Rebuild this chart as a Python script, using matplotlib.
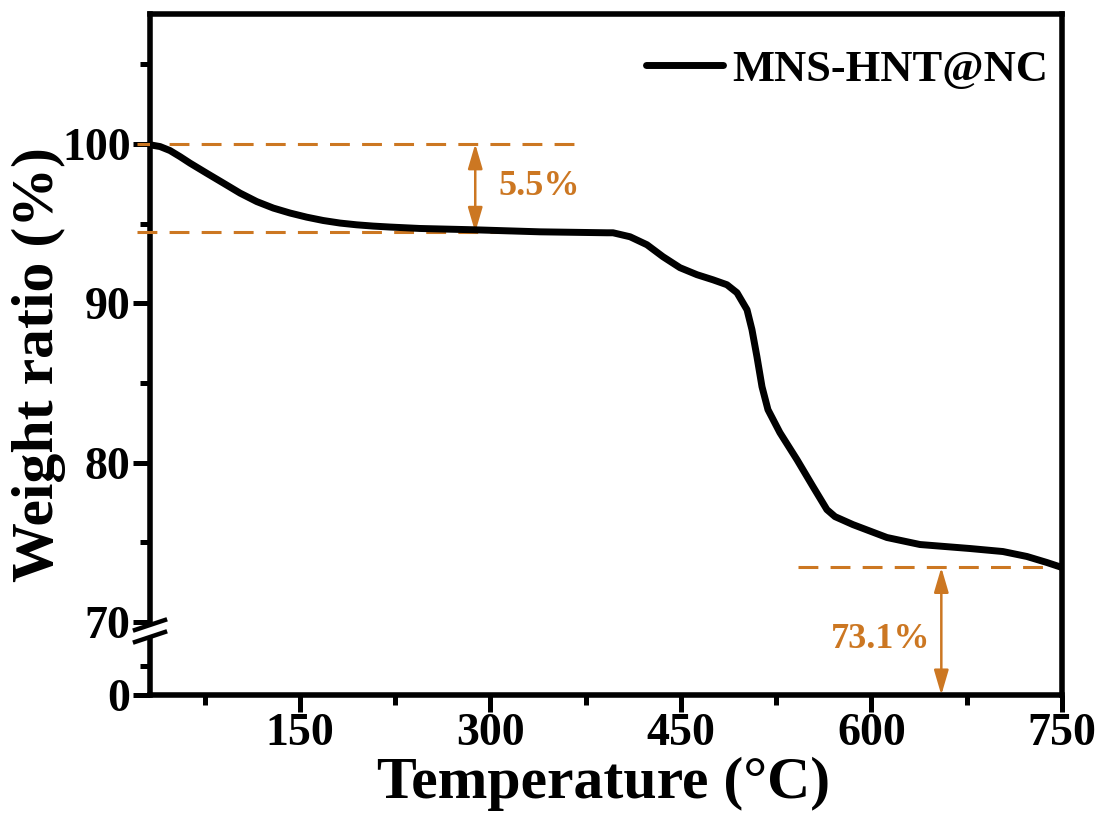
import numpy as np
import matplotlib
matplotlib.use("Agg")
import matplotlib.pyplot as plt
from matplotlib.patches import Polygon, ArrowStyle
from matplotlib.lines import Line2D

# ---------------- data ----------------
temperature = [31.9, 39.8, 47.6, 55.5, 63.4, 76.5, 89.6, 102.8, 115.9, 129.0,
               142.1, 155.3, 168.3, 181.5, 194.6, 207.7, 220.9, 234.0, 244.5,
               286.2, 338.9, 391.7, 396.5, 409.9, 423.2, 435.8, 449.2, 462.6,
               475.2, 486.2, 494.1, 502.0, 505.9, 509.8, 513.8, 518.5, 527.9,
               541.3, 553.9, 564.9, 571.3, 585.4, 612.2, 638.2, 677.5, 703.5,
               722.4, 738.2, 750.0]
weight = [99.94, 99.83, 99.58, 99.20, 98.79, 98.16, 97.54, 96.91, 96.38, 95.97,
          95.66, 95.40, 95.19, 95.03, 94.92, 94.84, 94.78, 94.73, 94.69,
          94.61, 94.48, 94.42, 94.42, 94.17, 93.67, 92.92, 92.23, 91.79,
          91.47, 91.16, 90.66, 89.59, 88.34, 86.65, 84.76, 83.32, 81.88,
          80.19, 78.50, 77.05, 76.61, 76.11, 75.30, 74.86, 74.61, 74.42,
          74.11, 73.73, 73.42]
series_name = "MNS-HNT@NC"

x_ticks = [150, 300, 450, 600, 750]
x_minor = [75, 225, 375, 525, 675]
y_ticks = [0, 70, 80, 90, 100]
y_tick_labels = ["0", "70", "80", "90", "100"]
y_minor = [28, 75, 85, 95, 105]

initial_weight = 100.0
plateau_weight = 94.45      # 5.5 % loss
residual_line = 73.42       # dashed residual level
loss_label = "5.5%"
residual_label = "73.1%"

# ---------------- style ----------------
plt.rcParams['font.family'] = ['Liberation Serif', 'DejaVu Serif']
plt.rcParams['font.weight'] = 'bold'
orange = '#CC7722'
break_val = 70.0
ratio = 4.58 / 70.0


def fwd(y):
    y = np.asarray(y, dtype=float)
    return np.where(y >= break_val, y, break_val - (break_val - y) * ratio)


def inv(v):
    v = np.asarray(v, dtype=float)
    return np.where(v >= break_val, v, break_val - (break_val - v) / ratio)


fig = plt.figure(figsize=(10.99, 8.21), dpi=100)
ax = fig.add_axes([0.1365, 0.1535, 0.8298, 0.8295])
ax.set_yscale('function', functions=(fwd, inv))

ax.plot(temperature, weight, color='black', lw=5, solid_joinstyle='round',
        solid_capstyle='round', label=series_name, zorder=4)

ax.set_xlim(31.9, 750)
ax.set_ylim(0, 108.15)

ax.set_xticks(x_ticks)
ax.set_xticks(x_minor, minor=True)
ax.set_yticks(y_ticks)
ax.set_yticklabels(y_tick_labels)
ax.set_yticks(y_minor, minor=True)
ax.tick_params(axis='both', which='major', direction='out', length=12,
               width=3.6, labelsize=33, pad=2)
ax.tick_params(axis='both', which='minor', direction='out', length=7,
               width=3.6)
ax.tick_params(axis='x', which='major', pad=1)
for s in ax.spines.values():
    s.set_linewidth(4)

ax.set_xlabel("Temperature (°C)", fontsize=43, fontweight='bold')
ax.set_ylabel("Weight ratio (%)", fontsize=43, fontweight='bold')
ax.xaxis.set_label_coords(0.497, -0.09)
ax.yaxis.set_label_coords(-0.092, 0.485)

# legend
leg = ax.legend(loc='center right', bbox_to_anchor=(0.985, 0.918), frameon=False,
                fontsize=32, handlelength=1.75, handletextpad=0.2,
                borderpad=0, borderaxespad=0)

# dashed reference lines
dash = (6.5, 4)
ax.plot([22, 369], [initial_weight, initial_weight], color=orange, lw=2.2,
        dashes=dash, clip_on=False, zorder=3)
ax.plot([22, 395], [plateau_weight, plateau_weight], color=orange, lw=2.2,
        dashes=dash, clip_on=False, zorder=3)
ax.plot([542, 750], [residual_line, residual_line], color=orange, lw=2.2,
        dashes=dash, zorder=3)

astyle = ArrowStyle('<|-|>', head_length=0.75, head_width=0.22)
ax.annotate('', xy=(288, initial_weight), xytext=(288, plateau_weight),
            arrowprops=dict(arrowstyle=astyle, color=orange, lw=1.8,
                            mutation_scale=20, shrinkA=0, shrinkB=0))
ax.annotate('', xy=(655, residual_line), xytext=(655, 0),
            arrowprops=dict(arrowstyle=astyle, color=orange, lw=1.8,
                            mutation_scale=20, shrinkA=0, shrinkB=0))
ax.text(306, 97.3, loss_label, color=orange, fontsize=26, fontweight='bold',
        ha='left', va='center')
ax.text(646, 0.081, residual_label, color=orange, fontsize=26, fontweight='bold',
        ha='right', va='center', transform=ax.get_xaxis_transform())

# axis break mark
dx, dy = 15 / 912, 5 / 681
y1, y2 = (695 - 625) / 681, (695 - 637) / 681
poly = Polygon([(-dx, y1 - dy), (dx, y1 + dy), (dx, y2 + dy), (-dx, y2 - dy)],
               closed=True, facecolor='white', edgecolor='none',
               transform=ax.transAxes, clip_on=False, zorder=5)
ax.add_patch(poly)
for yc in (y1, y2):
    ax.add_line(Line2D([-dx, dx], [yc - dy, yc + dy], color='black', lw=3.2,
                       transform=ax.transAxes, clip_on=False, zorder=6))

fig.savefig('out.png', dpi=100)
